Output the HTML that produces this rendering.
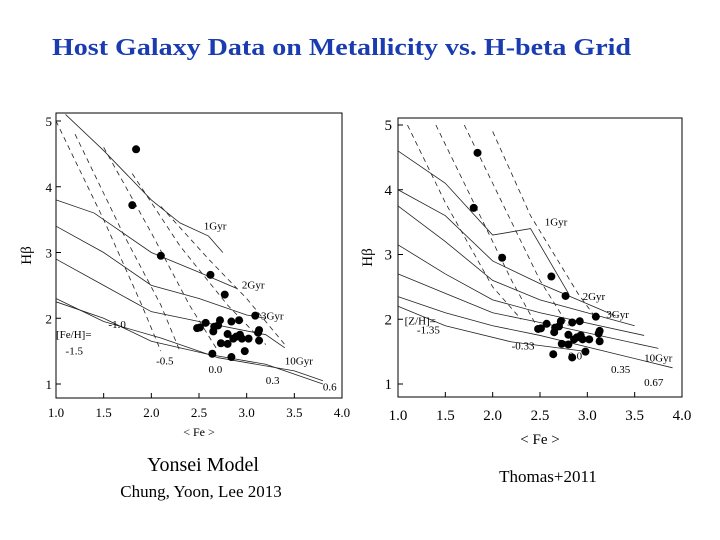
<!DOCTYPE html>
<html><head><meta charset="utf-8"><style>
html,body{margin:0;padding:0;background:#fff;width:720px;height:540px;overflow:hidden}
svg{display:block}
</style></head><body>
<svg id="s" width="720" height="540" viewBox="0 0 720 540" xmlns="http://www.w3.org/2000/svg" font-family="Liberation Serif, serif">
<text x="52" y="55" font-size="24" font-weight="bold" fill="#1a3cb0" textLength="579" lengthAdjust="spacingAndGlyphs">Host Galaxy Data on Metallicity vs. H-beta Grid</text>
<g id="left"></g>
<g id="right"></g>
<text x="203" y="471" font-size="20" text-anchor="middle">Yonsei Model</text>
<text x="201" y="497" font-size="17" text-anchor="middle">Chung, Yoon, Lee 2013</text>
<text x="548" y="482" font-size="17" text-anchor="middle">Thomas+2011</text>
</svg>
<script>
const feValues=[1.84,1.80,2.10,2.62,2.77,3.09,2.57,2.72,2.48,2.51,2.65,2.66,2.70,2.84,2.92,3.13,3.13,2.73,2.80,2.80,2.86,2.93,2.95,3.02,2.98,2.64,2.84,2.89,3.12];
const hbValues=[4.57,3.72,2.95,2.66,2.36,2.04,1.93,1.97,1.85,1.86,1.80,1.87,1.89,1.95,1.97,1.82,1.66,1.62,1.61,1.76,1.69,1.75,1.69,1.69,1.50,1.46,1.41,1.72,1.78];
const xTicks=[1.0,1.5,2.0,2.5,3.0,3.5,4.0];
const yTicks=[1,2,3,4,5];
const leftAges=[[[1.1,5.1],[1.5,4.55],[2.0,3.8],[2.3,3.45],[2.6,3.25],[2.75,3.0]],[[1.0,3.8],[1.4,3.6],[1.6,3.4],[2.0,3.0],[2.5,2.7],[2.9,2.45]],[[1.0,3.4],[1.5,3.0],[2.0,2.5],[2.5,2.3],[3.0,2.05],[3.2,2.0]],[[1.0,2.9],[1.5,2.5],[2.0,2.1],[2.5,1.95],[3.2,1.75],[3.4,1.55]],[[1.0,2.3],[1.5,1.95],[2.1,1.7],[2.7,1.4],[3.5,1.2],[3.8,1.05]],[[1.0,2.25],[1.5,2.0],[2.0,1.65],[2.6,1.45],[3.2,1.3],[3.8,1.0]]];
const leftMets=[[[1.0,5.0],[1.5,3.5],[1.9,2.2],[2.1,1.5]],[[1.2,4.8],[1.7,3.3],[2.1,2.2],[2.3,1.5]],[[1.5,4.6],[2.0,3.3],[2.4,2.2],[2.7,1.5]],[[1.8,4.2],[2.3,3.1],[2.8,2.2],[3.2,1.6]],[[2.1,3.7],[2.6,2.9],[3.0,2.3],[3.4,1.6]]];
const rightAges=[[[1.0,4.6],[1.5,4.1],[2.0,3.3],[2.4,3.4],[2.8,2.4]],[[1.0,4.0],[1.5,3.6],[2.0,2.9],[2.5,2.55],[3.3,2.05]],[[1.0,3.75],[1.5,3.2],[2.0,2.6],[2.5,2.3],[3.5,1.9]],[[1.0,3.15],[1.5,2.7],[2.0,2.3],[2.5,2.1],[3.6,1.75]],[[1.0,2.7],[1.5,2.4],[2.0,2.1],[2.5,1.95],[3.75,1.55]],[[1.0,2.35],[1.5,2.1],[2.0,1.9],[2.5,1.75],[3.9,1.25]],[[1.0,2.2],[1.5,1.9],[2.2,1.65],[3.0,1.5]]];
const rightMets=[[[1.1,5.0],[1.5,3.8],[2.0,2.5],[2.3,2.0]],[[1.4,5.0],[1.8,3.8],[2.2,2.6],[2.5,1.8]],[[1.7,5.0],[2.1,3.8],[2.5,2.6],[2.8,1.9]],[[2.0,4.9],[2.4,3.6],[2.9,2.4],[3.1,2.0]]];
const NS='http://www.w3.org/2000/svg';
function el(p,t,a){const e=document.createElementNS(NS,t);for(const k in a)e.setAttribute(k,a[k]);p.appendChild(e);return e;}
function chart(g,c){
 const X=v=>c.x0+(v-1)/3*(c.x1-c.x0), Y=v=>c.y1-(v-1)/4*(c.y1-c.y5);
 const fr=el(g,'rect',{x:c.x0,y:c.top,width:c.x1-c.x0,height:c.bot-c.top,fill:'none',stroke:'#000','stroke-width':1});
 
 
 xTicks.forEach(v=>{const t=el(g,'text',{x:X(v),y:c.bot+(c.big?23:19),'font-size':c.big?15:13,'text-anchor':'middle'});t.textContent=v.toFixed(1);
  
  
  el(g,'line',{x1:X(v),x2:X(v),y1:c.bot,y2:c.bot-5,stroke:'#000'});});
 yTicks.forEach(v=>{const t=el(g,'text',{x:c.x0-(c.big?6:4),y:Y(v)+5,'font-size':c.big?15:13,'text-anchor':'end'});t.textContent=v;
  
  
  el(g,'line',{x1:c.x0,x2:c.x0+5,y1:Y(v),y2:Y(v),stroke:'#000'});});
 const pts=a=>a.map(p=>X(p[0])+','+Y(p[1])).join(' ');
 c.ages.forEach(a=>{const l=el(g,'polyline',{points:pts(a),fill:'none',stroke:'#222','stroke-width':0.8});
  
  });
 c.mets.forEach(a=>{const l=el(g,'polyline',{points:pts(a),fill:'none',stroke:'#222','stroke-width':0.8,'stroke-dasharray':'5,4'});
  
  });
 feValues.forEach((f,i)=>{const d=el(g,'circle',{cx:X(f),cy:Y(hbValues[i]),r:4,fill:'#000'});
  
  });
 c.labels.forEach(L=>{const t=el(g,'text',{x:X(L[1]),y:Y(L[2]),'font-size':11});t.textContent=L[0];
  
  });
 const xl=el(g,'text',{x:(c.x0+c.x1)/2,y:c.bot+(c.big?47:38),'font-size':c.big?15:12,'text-anchor':'middle'});xl.textContent=c.xl;
 
 
 const yl=el(g,'text',{x:0,y:0,'font-size':15,'text-anchor':'middle',transform:`translate(${c.x0-(c.big?26:25)},${(c.top+c.bot)/2}) rotate(-90)`});yl.textContent='Hβ';
 
 
}
chart(document.getElementById('left'),{x0:56,x1:342,y5:121,y1:384,top:113,bot:398,big:false,xl:'< Fe >',ages:leftAges,mets:leftMets,
 labels:[['1Gyr',2.55,3.35],['2Gyr',2.95,2.45],['3Gyr',3.15,1.98],['10Gyr',3.4,1.3],['[Fe/H]=',1.0,1.7],['-1.5',1.1,1.45],['-1.0',1.55,1.85],['-0.5',2.05,1.3],['0.0',2.6,1.17],['0.3',3.2,1.0],['0.6',3.8,0.9]]});
chart(document.getElementById('right'),{x0:398,x1:682,y5:125,y1:384,top:118,bot:397,big:true,xl:'< Fe >',ages:rightAges,mets:rightMets,
 labels:[['1Gyr',2.55,3.45],['2Gyr',2.95,2.3],['3Gyr',3.2,2.02],['10Gyr',3.6,1.35],['[Z/H]=',1.07,1.92],['-1.35',1.2,1.78],['-0.33',2.2,1.53],['0.0',2.8,1.38],['0.35',3.25,1.17],['0.67',3.6,0.97]]});
</script>
</body></html>
